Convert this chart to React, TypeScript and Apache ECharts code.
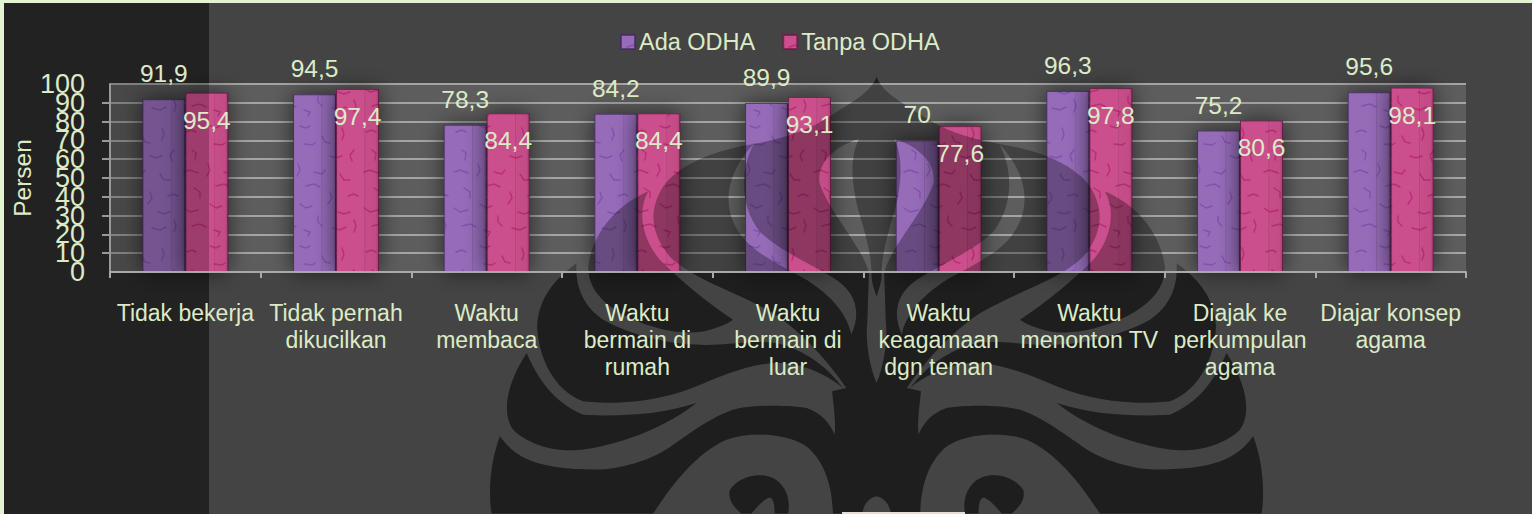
import React, { useEffect, useRef } from "react";
import * as echarts from "echarts";

const categories = [
  "Tidak bekerja",
  "Tidak pernah\ndikucilkan",
  "Waktu\nmembaca",
  "Waktu\nbermain di\nrumah",
  "Waktu\nbermain di\nluar",
  "Waktu\nkeagamaan\ndgn teman",
  "Waktu\nmenonton TV",
  "Diajak ke\nperkumpulan\nagama",
  "Diajar konsep\nagama",
];
const adaOdha = [91.9, 94.5, 78.3, 84.2, 89.9, 70, 96.3, 75.2, 95.6];
const tanpaOdha = [95.4, 97.4, 84.4, 84.4, 93.1, 77.6, 97.8, 80.6, 98.1];
const seriesNames = ["Ada ODHA", "Tanpa ODHA"];

const TEXT = "#dcebc6";

// Watermark outline, left half; mirrored about the centre line.
const halfMark = [
  "M1311,20 C1295,70 1220,105 1170,140 C1110,180 1040,205 942,222 C905,290 895,400 960,485 C1020,545 1130,590 1190,630 C1250,670 1265,730 1235,795 L1283,760 L1288,610 C1275,540 1170,430 1140,340 C1130,280 1190,225 1258,208 C1225,270 1240,370 1262,440 C1280,500 1296,560 1296,615 C1296,640 1305,660 1311,680 Z",
  "M180,1100 C230,1170 300,1200 480,1200 C560,1195 650,1165 700,1125 C760,1085 810,1045 880,1020 C940,1005 1040,1005 1100,1015 C1145,1030 1170,1060 1185,1095 C1190,1050 1180,1000 1178,965 L1220,955 L1235,795 L1283,760 C1278,800 1285,880 1311,940 L1311,1280 C1285,1285 1270,1310 1268,1332 L1180,1332 C1178,1240 1150,1170 1100,1130 C1040,1090 930,1085 860,1110 C770,1150 700,1240 640,1332 L155,1332 C145,1270 150,1180 180,1100 Z",
  "M870,1262 C900,1215 980,1200 1020,1240 C1050,1270 1050,1310 1045,1332 L1005,1332 C1005,1300 1000,1280 985,1285 C965,1295 950,1315 935,1332 L905,1332 C880,1310 865,1290 870,1262 Z",
  "M260,850 C290,920 340,1000 430,1035 C520,1040 650,1040 770,1000 C680,1070 560,1120 430,1140 C340,1150 260,1120 220,1080 C190,1040 190,960 260,850 Z",
  "M410,580 C340,630 295,690 292,770 C295,860 340,960 430,995 C520,1005 650,1000 770,950 C850,915 950,875 1030,880 C1100,885 1170,920 1210,955 C1170,900 1110,850 1030,825 C960,805 860,830 780,825 C680,825 560,790 490,750 C430,710 405,650 410,580 Z",
  "M625,365 C540,400 460,480 445,590 C445,650 480,700 570,745 C650,780 720,795 790,785 C830,775 860,765 880,750 C790,690 720,630 660,570 C610,510 590,430 625,365 Z",
  "M942,222 C830,240 720,280 670,350 C620,430 640,500 690,560 C760,630 880,660 1000,730 C1090,790 1170,880 1220,955 L1235,795 C1225,740 1180,680 1100,630 C1030,590 940,550 900,490 C850,420 850,320 942,222 Z",
].join(" ");
const mirrored = halfMark.replace(/(\d+),(\d+)/g, (_, x, y) => `${2622 - Number(x)},${y}`);
echarts.graphic.registerShape("uiMark", echarts.graphic.extendPath(halfMark + " " + mirrored, {}) as any);

// Hand-placed mottling strokes for the paper-like bar fill.
const veins: number[][] = [
  [6, 12, 12, 10, 16, 12], [30, 6, 36, 8, 40, 6], [52, 16, 55, 22, 60, 23], [72, 8, 74, 14, 72, 20], [12, 30, 16, 33, 15, 40],
  [34, 24, 42, 25, 45, 23], [60, 36, 66, 38, 72, 36], [84, 30, 80, 35, 82, 41], [4, 52, 10, 50, 18, 53], [28, 44, 30, 50, 27, 56],
  [44, 52, 52, 54, 55, 50], [70, 54, 74, 60, 80, 60], [14, 68, 20, 72, 20, 78], [36, 66, 44, 64, 50, 67], [60, 72, 62, 78, 58, 84],
  [78, 76, 84, 74, 88, 76], [4, 88, 10, 92, 18, 90], [30, 84, 36, 88, 42, 86], [68, 92, 74, 94, 80, 92], [48, 96, 48, 102, 52, 106],
  [12, 106, 20, 104, 26, 107], [34, 110, 40, 112, 38, 116], [62, 108, 70, 110, 76, 107], [84, 100, 86, 106, 84, 112],
];
function texture(base: string, vein: string) {
  const c = document.createElement("canvas");
  c.width = 90;
  c.height = 120;
  const g = c.getContext("2d")!;
  g.fillStyle = base;
  g.fillRect(0, 0, 90, 120);
  g.strokeStyle = vein;
  g.lineWidth = 1.4;
  g.lineCap = "round";
  veins.forEach((v) => {
    g.beginPath();
    g.moveTo(v[0], v[1]);
    g.lineTo(v[2], v[3]);
    g.lineTo(v[4], v[5]);
    g.stroke();
  });
  return c;
}

const comma = (p: any) => String(p.value).replace(".", ",");
const shade = {
  type: "linear", x: 0, y: 0, x2: 1, y2: 0,
  colorStops: [
    { offset: 0, color: "rgba(0,0,0,0.10)" },
    { offset: 0.05, color: "rgba(0,0,0,0)" },
    { offset: 0.66, color: "rgba(0,0,0,0)" },
    { offset: 0.665, color: "rgba(0,0,0,0.14)" },
    { offset: 0.69, color: "rgba(0,0,0,0.03)" },
    { offset: 0.92, color: "rgba(0,0,0,0.04)" },
    { offset: 1, color: "rgba(0,0,0,0.2)" },
  ],
};

export default function App() {
  const ref = useRef<HTMLDivElement>(null);
  useEffect(() => {
    document.body.style.margin = "0";
    document.body.style.overflow = "hidden";
    const chart = echarts.init(ref.current!, undefined, { renderer: "svg" });
    const purple = { image: texture("#966cb9", "#8252ae"), repeat: "repeat" };
    const red = { image: texture("#cb4f8c", "#b92e76"), repeat: "repeat" };
    const fills = [purple, red];
    const borders = ["rgba(70,35,100,0.7)", "rgba(110,20,70,0.7)"];
    const values = [adaOdha, tanpaOdha];
    const mark = { type: "uiMark", x: 440, y: 70, scaleX: 1 / 3, scaleY: 1 / 3, silent: true };
    const hiddenX = { type: "category", data: categories, show: false };
    const hiddenY = { type: "value", position: "left", min: 0, max: 100, interval: 10, show: false };
    const tickFont = { color: TEXT, fontFamily: "Liberation Sans", fontSize: 27, lineHeight: 14, height: 14, margin: 25 };
    const grid = { left: 110, top: 84, width: 1356, height: 188, outerBoundsMode: "none", containLabel: false };
    chart.setOption({
      animation: false,
      backgroundColor: "#444444",
      grid,
      graphic: [
        { type: "rect", z: 0, silent: true, shape: { x: 0, y: 0, width: 1532, height: 3 }, style: { fill: "#e3f2d0" } },
        { type: "rect", z: 0, silent: true, shape: { x: 0, y: 0, width: 4, height: 514 }, style: { fill: "#e3f2d0" } },
        { type: "rect", z: 0, silent: true, shape: { x: 4, y: 3, width: 205, height: 511 }, style: { fill: "#2c2c2c" } },
        { ...mark, z: 0, style: { fill: "#2b2b2b" } },
        { type: "rect", z: 1, silent: true, shape: { x: 110, y: 84, width: 1356, height: 188 }, style: { fill: "#5d5d5d" } },
        { type: "rect", z: 4, silent: true, shape: { x: 4, y: 3, width: 205, height: 511 }, style: { fill: "rgba(0,0,0,0.22)" } },
        { ...mark, z: 4, style: { fill: "rgba(0,0,0,0.30)" } },
        { type: "rect", z: 5, silent: true, shape: { x: 842, y: 512, width: 123, height: 2 }, style: { fill: "#e8dcd4" } },
      ],
      legend: {
        data: seriesNames,
        left: 615,
        top: 25,
        z: 6,
        itemWidth: 14,
        itemHeight: 14,
        itemGap: 27,
        icon: "rect",
        textStyle: { color: TEXT, fontFamily: "Liberation Sans", fontSize: 23.5, padding: [0, 0, 0, -1] },
      },
      xAxis: [
        {
          type: "category",
          data: categories,
          z: 6,
          axisLine: { show: true, lineStyle: { color: "#a9a9a9", width: 2 } },
          axisTick: { show: true, length: 6, lineStyle: { color: "#a9a9a9", width: 2 } },
          axisLabel: {
            interval: 0, margin: 27, color: TEXT, fontFamily: "Liberation Sans", fontSize: 23, lineHeight: 27,
          },
          splitLine: { show: false },
        },
        hiddenX,
        hiddenX,
      ],
      yAxis: [
        {
          type: "value",
          position: "left",
          min: 0,
          max: 100,
          interval: 10,
          z: 6,
          name: "Persen",
          nameLocation: "middle",
          nameGap: 75,
          nameTextStyle: { color: TEXT, fontFamily: "Liberation Sans", fontSize: 24.5 },
          axisLine: { show: true, lineStyle: { color: "#999999", width: 2 } },
          axisTick: { show: true, length: 8, lineStyle: { color: "#999999", width: 2 } },
          axisLabel: { ...tickFont, showMinLabel: false, showMaxLabel: false },
          splitLine: { show: false },
        },
        {
          type: "value",
          position: "left",
          min: 0,
          max: 100,
          interval: 10,
          z: 2,
          axisLine: { show: false },
          axisTick: { show: false },
          axisLabel: { show: false },
          splitLine: { show: true, lineStyle: { color: "#a4a4a4", width: 2 } },
        },
        hiddenY,
        {
          type: "value",
          position: "left",
          min: 0,
          max: 100,
          interval: 100,
          z: 6,
          axisLine: { show: false },
          axisTick: { show: false },
          axisLabel: tickFont,
          splitLine: { show: false },
        },
      ],
      series: [
        ...seriesNames.map((name, i) => ({
          name,
          type: "bar",
          z: 3,
          xAxisIndex: 0,
          yAxisIndex: 1,
          barWidth: 43,
          barGap: 0,
          data: values[i],
          itemStyle: {
            color: fills[i],
            borderColor: borders[i],
            borderWidth: 1,
            shadowBlur: 22,
            shadowColor: "rgba(0,0,0,0.6)",
          },
        })),
        ...seriesNames.map((name, i) => ({
          name: name + " bevel",
          type: "bar",
          z: 3.5,
          xAxisIndex: 1,
          yAxisIndex: 2,
          barWidth: 43,
          barGap: 0,
          data: values[i],
          itemStyle: { color: shade },
        })),
        ...seriesNames.map((name, i) => ({
          name: name + " label",
          type: "bar",
          z: 5,
          xAxisIndex: 2,
          yAxisIndex: 2,
          barWidth: 43,
          barGap: 0,
          data: values[i],
          itemStyle: { color: "rgba(0,0,0,0)" },
          label: {
            show: true,
            position: i === 0 ? "top" : "insideTop",
            distance: i === 0 ? 13 : 15,
            formatter: comma,
            color: TEXT,
            fontFamily: "Liberation Sans",
            fontSize: 24.5,
          },
        })),
      ],
    } as any);
    return () => chart.dispose();
  }, []);
  return <div ref={ref} style={{ width: 1532, height: 514 }} />;
}
